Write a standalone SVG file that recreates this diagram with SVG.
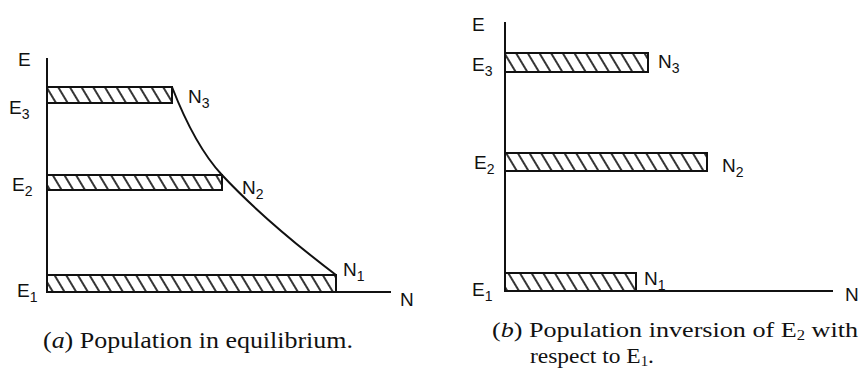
<svg xmlns="http://www.w3.org/2000/svg" width="865" height="369" viewBox="0 0 865 369">
<style>
.lbl{font-family:"Liberation Sans",Arial,sans-serif;font-size:19px;fill:#111}
.sub{font-size:14px}
.cap{font-family:"Liberation Serif","Times New Roman",serif;font-size:23px;fill:#111}
.capb{font-family:"Liberation Serif","Times New Roman",serif;font-size:22px;fill:#111}
.csub{font-size:14px}
.bar{fill:url(#hatch);stroke:#111;stroke-width:2}
.ax{fill:none;stroke:#111;stroke-width:2}
</style>
<defs>
<pattern id="hatch" patternUnits="userSpaceOnUse" width="10" height="10" patternTransform="rotate(-31)">
<rect width="10" height="10" fill="#fff"/>
<line x1="5" y1="-1" x2="5" y2="11" stroke="#111" stroke-width="1.7"/>
</pattern>
</defs>
<rect width="865" height="369" fill="#fff"/>

<!-- Panel (a) -->
<g id="connectors-a">
<path class="ax" d="M47,58 V292 H391"/>
<path class="ax" d="M172,87 Q195,146 222,175 Q265,221 336,275" stroke-width="1.8"/>
</g>
<g id="a-axis-E"><text class="lbl" x="18" y="66">E</text></g>
<g id="a-axis-N"><text class="lbl" x="400" y="306">N</text></g>
<g id="a-E3">
<rect class="bar" x="47" y="87" width="125" height="16"/>
<text class="lbl" x="9" y="114">E<tspan class="sub" dy="5">3</tspan></text>
<text class="lbl" x="188" y="103">N<tspan class="sub" dy="5">3</tspan></text>
</g>
<g id="a-E2">
<rect class="bar" x="47" y="175" width="175" height="15"/>
<text class="lbl" x="12" y="191">E<tspan class="sub" dy="5">2</tspan></text>
<text class="lbl" x="242" y="194">N<tspan class="sub" dy="5">2</tspan></text>
</g>
<g id="a-E1">
<rect class="bar" x="47" y="275" width="289" height="17"/>
<text class="lbl" x="17" y="297">E<tspan class="sub" dy="5">1</tspan></text>
<text class="lbl" x="343" y="276">N<tspan class="sub" dy="5">1</tspan></text>
</g>
<g id="caption-a">
<text class="cap" x="43" y="348" textLength="310" lengthAdjust="spacingAndGlyphs">(<tspan font-style="italic">a</tspan>) Population in equilibrium.</text>
</g>

<!-- Panel (b) -->
<g id="connectors-b">
<path class="ax" d="M505,22 V291 H833"/>
</g>
<g id="b-axis-E"><text class="lbl" x="472" y="31">E</text></g>
<g id="b-axis-N"><text class="lbl" x="845" y="301">N</text></g>
<g id="b-E3">
<rect class="bar" x="505" y="53" width="143" height="19"/>
<text class="lbl" x="472" y="71">E<tspan class="sub" dy="5">3</tspan></text>
<text class="lbl" x="658" y="68">N<tspan class="sub" dy="5">3</tspan></text>
</g>
<g id="b-E2">
<rect class="bar" x="505" y="153" width="202" height="18"/>
<text class="lbl" x="474" y="169">E<tspan class="sub" dy="5">2</tspan></text>
<text class="lbl" x="722" y="172">N<tspan class="sub" dy="5">2</tspan></text>
</g>
<g id="b-E1">
<rect class="bar" x="505" y="273" width="131" height="18"/>
<text class="lbl" x="472" y="296">E<tspan class="sub" dy="5">1</tspan></text>
<text class="lbl" x="644" y="285">N<tspan class="sub" dy="5">1</tspan></text>
</g>
<g id="caption-b">
<text class="capb" x="492" y="337" textLength="366" lengthAdjust="spacingAndGlyphs">(<tspan font-style="italic">b</tspan>) Population inversion of E<tspan class="csub" dy="3">2</tspan><tspan dy="-3"> with</tspan></text>
<text class="capb" x="530" y="363" textLength="124" lengthAdjust="spacingAndGlyphs">respect to E<tspan class="csub" dy="3">1</tspan><tspan dy="-3">.</tspan></text>
</g>
</svg>
